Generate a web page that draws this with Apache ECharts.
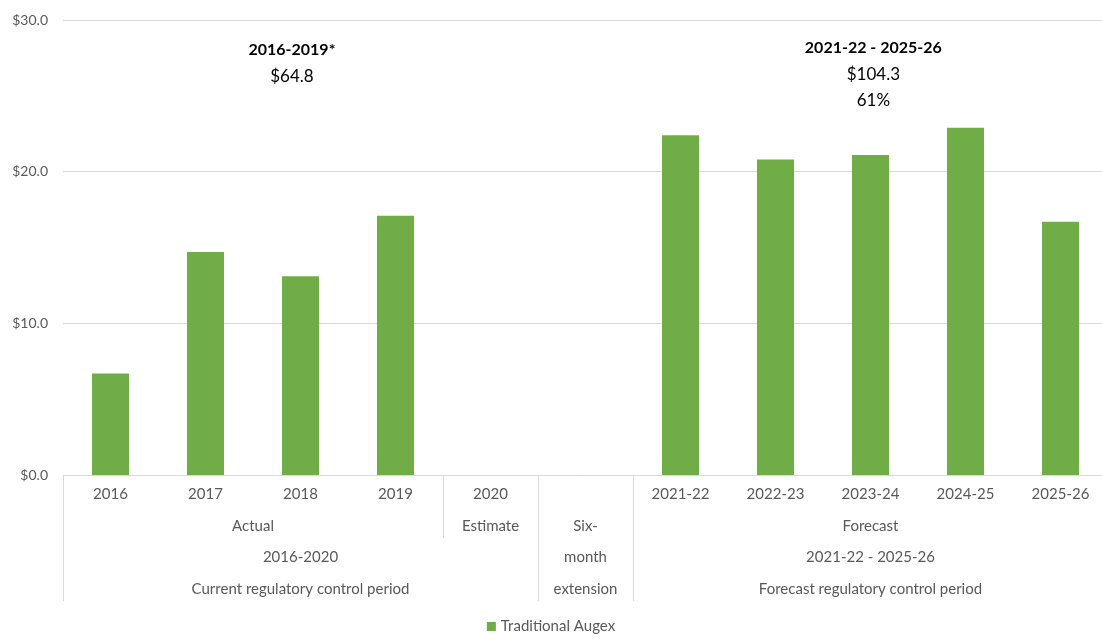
<!DOCTYPE html>
<html>
<head>
<meta charset="utf-8">
<script src="https://cdn.jsdelivr.net/npm/echarts@6/dist/echarts.min.js"></script>
<style>
  html, body { margin: 0; padding: 0; background: #fff; }
  #chart { width: 1102px; height: 639px; }
</style>
</head>
<body>
<div id="chart"></div>
<script>
// chart values
const categories = ['2016', '2017', '2018', '2019', '2020', '', '2021-22', '2022-23', '2023-24', '2024-25', '2025-26'];
const augex = [6.7, 14.7, 13.1, 17.1, null, null, 22.4, 20.8, 21.1, 22.9, 16.7];
const yTicks = [0, 10, 20, 30];

// multi level axis groups (category index ranges)
const level2 = [
  { text: 'Actual', from: 0, to: 3 },
  { text: 'Estimate', from: 4, to: 4 },
  { text: 'Six-', from: 5, to: 5 },
  { text: 'Forecast', from: 6, to: 10 }
];
const level3 = [
  { text: '2016-2020', from: 0, to: 4 },
  { text: 'month', from: 5, to: 5 },
  { text: '2021-22 - 2025-26', from: 6, to: 10 }
];
const level4 = [
  { text: 'Current regulatory control period', from: 0, to: 4 },
  { text: 'extension', from: 5, to: 5 },
  { text: 'Forecast regulatory control period', from: 6, to: 10 }
];

// period totals shown above the bars
const totals = [
  { lines: ['2016-2019*', '$64.8'], at: 1.91 },
  { lines: ['2021-22 - 2025-26', '$104.3', '61%'], at: 8.03 }
];

const font = 'Lato, "Open Sans", sans-serif';
const green = '#70AD47';
const grey = '#595959';

const chart = echarts.init(document.getElementById('chart'));

chart.setOption({
  animation: false,
  grid: { left: 63, right: -6, top: 20, bottom: 164, outerBoundsMode: 'none', containLabel: false },
  legend: {
    bottom: 0,
    left: 'center',
    itemWidth: 9,
    itemHeight: 9,
    itemGap: 4,
    icon: 'rect',
    textStyle: { color: grey, fontSize: 15, fontFamily: font },
    data: ['Traditional Augex']
  },
  xAxis: {
    type: 'category',
    data: categories,
    axisLine: { lineStyle: { color: '#d9d9d9' } },
    axisTick: { show: false },
    axisLabel: { color: grey, fontSize: 15, fontFamily: font, margin: 12, interval: 0 }
  },
  yAxis: {
    type: 'value',
    min: yTicks[0],
    max: yTicks[yTicks.length - 1],
    interval: 10,
    axisLine: { show: false },
    axisTick: { show: false },
    splitLine: { lineStyle: { color: '#d9d9d9' } },
    axisLabel: {
      color: grey, fontSize: 14, fontFamily: font, margin: 15,
      formatter: v => '$' + v.toFixed(1)
    }
  },
  series: [{
    name: 'Traditional Augex',
    type: 'bar',
    data: augex,
    barWidth: '39%',
    itemStyle: { color: green }
  }]
});

// extra axis rows, dividers and annotations, placed through the axis scale
function px(i) { return chart.convertToPixel({ xAxisIndex: 0 }, i); }
function py(v) { return chart.convertToPixel({ yAxisIndex: 0 }, v); }

const band = px(1) - px(0);
const base = py(0);
const elements = [];

function addRow(groups, y) {
  groups.forEach(g => {
    elements.push({
      type: 'text',
      x: (px(g.from) + px(g.to)) / 2,
      y: y,
      style: {
        text: g.text, fill: grey, font: '15px ' + font,
        textAlign: 'center', textVerticalAlign: 'middle'
      }
    });
  });
}
addRow(level2, base + 51);
addRow(level3, base + 82);
addRow(level4, base + 114);

// dividers: boundary index, depth
const dividers = [[0, 126], [4, 63], [5, 126], [6, 126]];
dividers.forEach(d => {
  const x = Math.round(px(d[0]) - band / 2) + 0.5;
  elements.push({
    type: 'line',
    shape: { x1: x, y1: base, x2: x, y2: base + d[1] },
    style: { stroke: '#d9d9d9', lineWidth: 1 }
  });
});

totals.forEach(t => {
  const x = px(0) + t.at * band;
  t.lines.forEach((txt, k) => {
    elements.push({
      type: 'text',
      x: x,
      y: 50 + k * 26.5 - (t.lines.length === 3 ? 2 : 0),
      style: {
        text: txt, fill: '#000',
        font: (k === 0 ? 'bold 16px ' : '17px ') + font,
        textAlign: 'center', textVerticalAlign: 'middle'
      }
    });
  });
});

chart.setOption({ graphic: elements });
</script>
</body>
</html>
